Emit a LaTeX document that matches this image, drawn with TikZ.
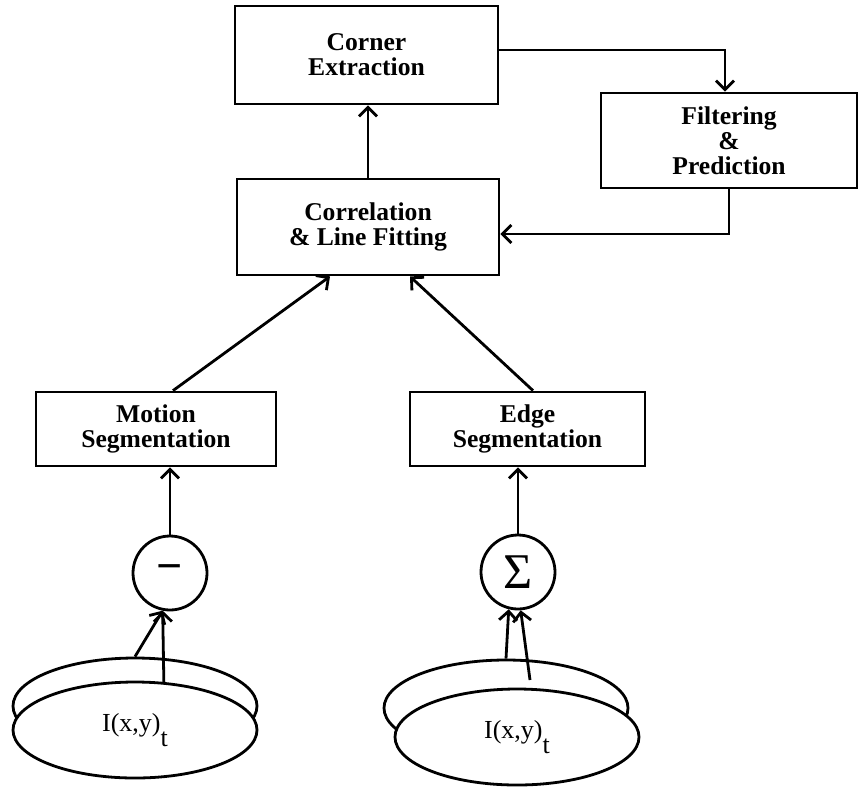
\documentclass[tikz,border=0pt]{standalone}
\usepackage{fontspec}
\setmainfont{Liberation Serif}
\usetikzlibrary{arrows.meta,shapes.geometric}

\begin{document}
\begin{tikzpicture}[x=0.5pt,y=-0.5pt,line width=1.4pt,
  block/.style={draw,rectangle,inner sep=0pt,align=center,
    font=\fontsize{12.8}{12.5}\selectfont\bfseries},
  op/.style={draw,circle,inner sep=0pt,minimum size=37pt},
  frame/.style={draw,ellipse,inner sep=0pt,minimum width=122pt,
    minimum height=48pt,fill=white,font=\fontsize{13}{13}\selectfont},
  arr/.style={-{Straight Barb[length=4.5pt,width=9pt]}}]
  \useasboundingbox (0,0) rectangle (860,787);

  % Processing blocks
  \node[block,minimum width=131.5pt,minimum height=49pt] (corner) at (366.5,55) {Corner\\Extraction};
  \node[block,minimum width=128pt,minimum height=47.5pt] (filter) at (729,140.5) {Filtering\\\&\\Prediction};
  \node[block,minimum width=131pt,minimum height=48pt] (corr) at (368,227) {Correlation\\\& Line Fitting};
  \node[block,minimum width=120pt,minimum height=37pt] (motion) at (156,429) {Motion\\Segmentation};
  \node[block,minimum width=117.5pt,minimum height=37pt] (edge) at (527.5,429) {Edge\\Segmentation};

  % Operators
  \node[op] (diff) at (170,573) {\fontsize{23}{23}\selectfont\bfseries −};
  \node[op] (sum) at (518,572) {\fontsize{25}{25}\selectfont Σ};

  % Image frames, the earlier one behind
  \node[frame] (prevL) at (135,706) {};
  \node[frame] (imgL) at (135,730) {I(x,y)\raisebox{-7.5pt}{t}};
  \node[frame] (prevR) at (506,708) {};
  \node[frame] (imgR) at (517,737) {I(x,y)\raisebox{-7.5pt}{t}};
  \coordinate (tapR) at (530,680);

  % Connections
  \draw[arr] (prevL.north) -- (diff.259);
  \draw[arr] (imgL.59) -- (diff.259);
  \draw[arr] (prevR.north) -- (sum.256);
  \draw[arr] (tapR) -- (sum.274);
  \draw[arr] (diff) -- (diff |- motion.south);
  \draw[arr] (sum) -- (sum |- edge.south);
  \draw[arr] ([xshift=8.5pt]motion.north) -- ([xshift=-19pt]corr.south);
  \draw[arr] ([xshift=2.75pt]edge.north) -- ([xshift=21pt]corr.south);
  \draw[arr] (corr.north) -- (corr.north |- corner.south);
  \draw[arr] ([yshift=2.5pt]corner.east) -| ([xshift=-2pt]filter.north);
  \draw[arr] (filter.south) |- ([yshift=-3.5pt]corr.east);
\end{tikzpicture}
\end{document}
